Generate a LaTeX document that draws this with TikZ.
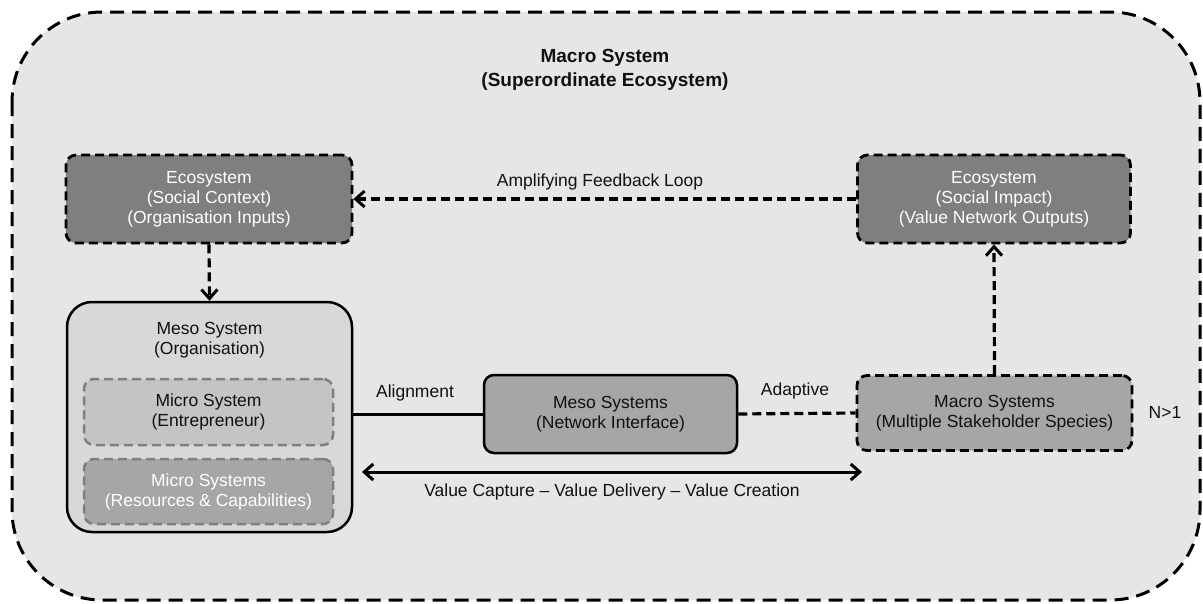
\documentclass[tikz,border=0pt]{standalone}
\usepackage{fontspec}
\setmainfont{Liberation Sans}
\usetikzlibrary{arrows.meta}
\definecolor{bg}{HTML}{E6E6E6}
\definecolor{dark}{HTML}{7F7F7F}
\definecolor{mid}{HTML}{A6A6A6}
\definecolor{light}{HTML}{D8D8D8}
\definecolor{micro}{HTML}{C4C4C4}
\definecolor{txt}{HTML}{111111}
\tikzset{
  base/.style={rounded corners=10pt, align=center, inner sep=0pt,
    font=\fontsize{17.5}{20}\selectfont},
  darkbox/.style={base, fill=dark, draw=black, line width=2.8pt,
    dash pattern=on 9pt off 5pt, text=white},
  midbox/.style={base, fill=mid, draw=black, line width=2.8pt,
    dash pattern=on 9pt off 5pt, text=txt},
  netbox/.style={base, fill=mid, draw=black, line width=2.5pt, text=txt},
  mesobox/.style={base, rounded corners=25pt, fill=light, draw=black, line width=2.5pt},
  microA/.style={base, fill=micro, draw=dark, line width=2.5pt,
    dash pattern=on 9pt off 5pt, text=txt},
  microB/.style={base, fill=mid, draw=dark, line width=2.5pt,
    dash pattern=on 9pt off 5pt, text=white},
  lbl/.style={font=\fontsize{17.5}{20}\selectfont, text=txt, align=center, inner sep=0pt},
  conn/.style={line width=3pt},
  dconn/.style={line width=3.2pt, dash pattern=on 9pt off 5pt},
  tip/.style={-{Straight Barb[length=9pt,width=16pt,line width=3pt]}},
}
\begin{document}
\begin{tikzpicture}[x=1pt,y=-1pt]
\useasboundingbox (0,0) rectangle (1203,603);
\fill[white] (0,0) rectangle (1203,603);
\draw[fill=bg, line width=3pt, dash pattern=on 14pt off 8pt, rounded corners=90pt]
  (12,12) rectangle (1200,600);
\node[lbl, font=\fontsize{19}{24}\selectfont\bfseries] (title) at (605,70)
  {Macro System\\(Superordinate Ecosystem)};

\node[darkbox, minimum width=286pt, minimum height=88pt] (ecoL) at (209,199)
  {Ecosystem\\(Social Context)\\(Organisation Inputs)};
\node[darkbox, minimum width=273pt, minimum height=88pt] (ecoR) at (994,199)
  {Ecosystem\\(Social Impact)\\(Value Network Outputs)};

\node[mesobox, minimum width=285pt, minimum height=230pt] (meso) at (209.5,417) {};
\node[lbl] (mesot) at (209.5,340) {Meso System\\(Organisation)};
\node[microA, minimum width=249pt, minimum height=66pt] (mic1) at (208.5,412)
  {Micro System\\(Entrepreneur)};
\node[microB, minimum width=249pt, minimum height=65pt] (mic2) at (208.5,491.5)
  {Micro Systems\\(Resources \& Capabilities)};

\node[netbox, minimum width=253pt, minimum height=78pt] (net) at (610.5,414)
  {Meso Systems\\(Network Interface)};
\node[midbox, minimum width=275pt, minimum height=75pt] (macro) at (994.5,413)
  {Macro Systems\\(Multiple Stakeholder Species)};
\node[lbl] (n1) at (1165,412) {N>1};

\draw[dconn, tip] (ecoL.south) -- (meso.north);
\draw[dconn, tip] (macro.north) -- (ecoR.south);
\draw[dconn, tip] (ecoR.west) -- (ecoL.east);
\node[lbl] (amp) at (600,182) {Amplifying Feedback Loop};

\draw[conn] (net.west -| meso.east) -- (net.west);
\node[lbl] (align) at (415,393) {Alignment};
\draw[dconn] (net.east) -- (macro.west);
\node[lbl] (adapt) at (795,391) {Adaptive};

\coordinate (va) at (362,472);
\coordinate (vb) at (862,472);
\draw[conn, {Straight Barb[length=9pt,width=16pt,line width=3pt]}-{Straight Barb[length=9pt,width=16pt,line width=3pt]}] (va) -- (vb);
\node[lbl] (vc) at (612,492) {Value Capture – Value Delivery – Value Creation};
\end{tikzpicture}
\end{document}
